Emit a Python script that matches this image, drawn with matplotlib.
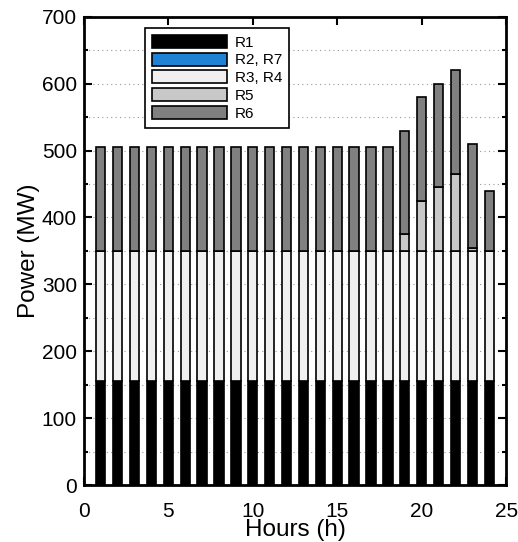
import numpy as np
import matplotlib
matplotlib.use("Agg")
from matplotlib import pyplot as plt
from matplotlib.ticker import MultipleLocator

plt.rcParams['font.family'] = ['Liberation Sans', 'DejaVu Sans']

hours = np.arange(1, 25)
r1 = [155] * 24
r2_r7 = [0] * 24
r3_r4 = [195] * 24
r5 = [0] * 18 + [25, 75, 95, 115, 5, 0]
r6 = [155] * 23 + [90]

series = [r1, r2_r7, r3_r4, r5, r6]
labels = ["R1", "R2, R7", "R3, R4", "R5", "R6"]
colors = ["#000000", "#1f82d2", "#f0f0f0", "#c8c8c8", "#808080"]

fig = plt.figure(figsize=(5.18, 5.42), dpi=100)
ax = fig.add_axes([0.162, 0.105, 0.815, 0.864])

bottom = np.zeros(len(hours))
for vals, lab, col in zip(series, labels, colors):
    ax.bar(hours, vals, width=0.55, bottom=bottom, color=col,
           edgecolor="black", linewidth=1.2, label=lab, zorder=3)
    bottom += np.array(vals)

ax.set_xlim(0, 25)
ax.set_ylim(0, 700)
ax.xaxis.set_major_locator(MultipleLocator(5))
ax.yaxis.set_major_locator(MultipleLocator(100))
ax.yaxis.set_minor_locator(MultipleLocator(50))
ax.tick_params(which="both", direction="in", top=True, right=True,
               labelsize=15, width=1.5)
ax.tick_params(axis="x", pad=12)
ax.tick_params(axis="y", pad=5)
ax.tick_params(which="major", length=6)
ax.tick_params(which="minor", length=3)
ax.grid(True, which="both", axis="y", linestyle=(0, (1, 3)),
        color="#999999", linewidth=0.8, zorder=0)
for s in ax.spines.values():
    s.set_linewidth(2)

ax.set_xlabel("Hours (h)", fontsize=17.5, labelpad=-1)
ax.set_ylabel("Power (MW)", fontsize=17.5, labelpad=1)

leg = ax.legend(loc="upper left", bbox_to_anchor=(0.145, 0.976),
                borderaxespad=0, fontsize=11, handlelength=4.9,
                handleheight=0.92, labelspacing=0.2, handletextpad=0.5,
                borderpad=0.45, fancybox=False, framealpha=1,
                edgecolor="black")
leg.get_frame().set_linewidth(1.2)

fig.savefig("out.png", dpi=100)
